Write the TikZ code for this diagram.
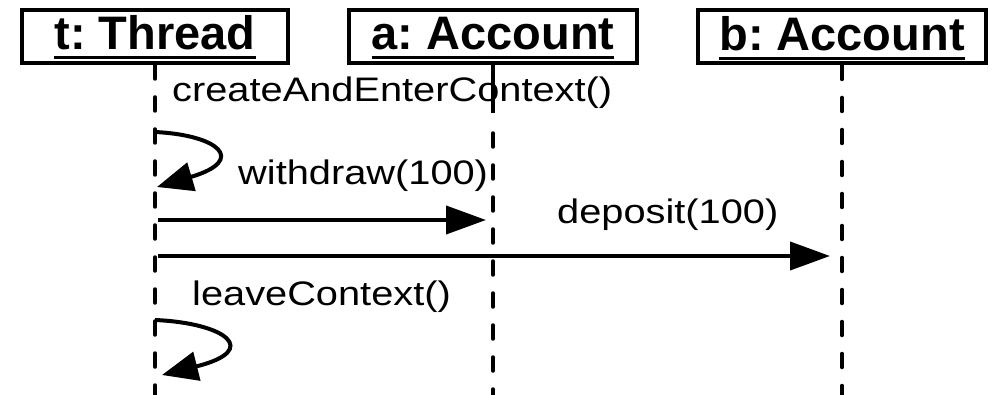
\documentclass[tikz,border=0pt]{standalone}
\usepackage{fontspec}
\setmainfont{Liberation Sans}
\newfontfamily\msgfont[FakeStretch=1.17]{Liberation Sans}
\usetikzlibrary{arrows.meta}
\frenchspacing
% underlined object name with a heavy rule below the baseline
\newcommand\objname[1]{\setbox0\hbox{#1}\rlap{\raisebox{-9.5pt}{\rule{\wd0}{3pt}}}\box0}
\begin{document}
\begin{tikzpicture}[x=1pt,y=-1pt,
  objbox/.style={draw, line width=4pt, minimum width=288pt, minimum height=53pt,
    inner sep=0pt, font=\bfseries\fontsize{47}{50}\selectfont, text height=34pt, text depth=7pt},
  lifeline/.style={line width=3.5pt, line cap=round, dash pattern=on 14pt off 18pt},
  msglabel/.style={anchor=base west, inner sep=0pt, font=\msgfont\fontsize{34}{40}\selectfont},
  msg/.style={line width=4pt, -{Triangle[length=40pt,width=28pt]}},
  selfmsg/.style={line width=4pt, -{Triangle[length=36pt,width=29pt]}}]
\useasboundingbox (0,0) rectangle (992,395);

% objects
\node[objbox, minimum width=266pt] (t) at (155,36.5) {\objname{t: Thread}};
\node[objbox] (a) at (493,36.5) {\objname{a: Account}};
\node[objbox] (b) at (842,37) {\objname{b: Account}};

% message labels
\node[msglabel] (l1) at (172,102) {createAndEnterContext()};
\node[msglabel] (l2) at (238,185) {withdraw(100)};
\node[msglabel] (l3) at (557,223) {deposit(100)};
\node[msglabel] (l4) at (192,305) {leaveContext()};

% lifelines
\coordinate (bottom) at (0,400);
\coordinate (asolid) at (0,113);
\coordinate (adash) at (0,133);
\draw[lifeline] (t.south) -- (t.south |- bottom);
\draw[line width=3.5pt] (a.south) -- (a.south |- asolid);
\draw[lifeline] (a.south |- adash) -- (a.south |- bottom);
\draw[lifeline] (b.south) -- (b.south |- bottom);

% messages
\coordinate (s1from) at (155,132);
\coordinate (s1to) at (157,187);
\draw[selfmsg] (s1from) .. controls (218,135) and (248,160) .. (s1to);
\coordinate (m1) at (0,220);
\draw[msg, shorten <=3pt, shorten >=7pt] (t |- m1) -- (a |- m1);
\coordinate (m2) at (0,256);
\draw[msg, shorten <=3pt, shorten >=12pt] (t |- m2) -- (b |- m2);
\coordinate (s2from) at (155,320);
\coordinate (s2to) at (162,375);
\draw[selfmsg] (s2from) .. controls (225,323) and (262,350) .. (s2to);
\end{tikzpicture}
\end{document}
